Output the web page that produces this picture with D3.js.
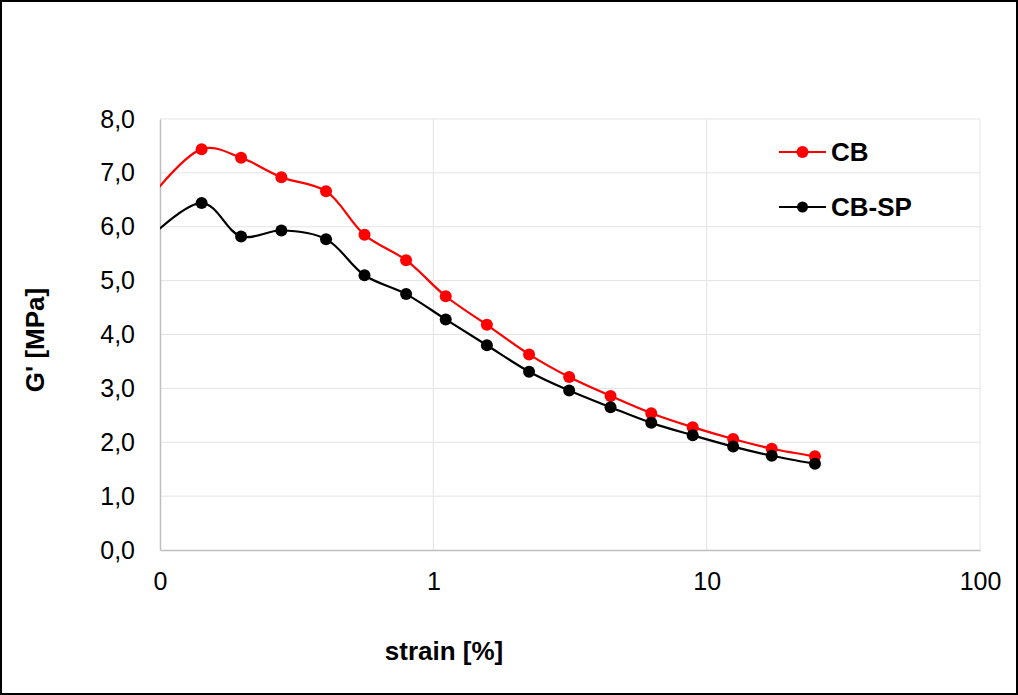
<!DOCTYPE html>
<html>
<head>
<meta charset="utf-8">
<script src="https://cdn.jsdelivr.net/npm/d3@7"></script>
<style>
  body { margin: 0; background: #fff; }
  text { font-family: "Liberation Sans", Arial, sans-serif; }
</style>
</head>
<body>
<div class="viz-container"></div>
<script>
// strain [%] (first point sits left of the axis and is clipped)
let strain = [0.07, 0.142, 0.198, 0.278, 0.405, 0.56, 0.795, 1.11, 1.57, 2.24, 3.14, 4.45, 6.27, 8.89, 12.5, 17.3, 24.9];
// G' [MPa]
let gCB   = [5.75, 7.44, 7.28, 6.92, 6.66, 5.85, 5.38, 4.71, 4.18, 3.63, 3.21, 2.86, 2.54, 2.28, 2.06, 1.88, 1.74];
let gCBSP = [5.2, 6.44, 5.82, 5.93, 5.77, 5.10, 4.75, 4.28, 3.80, 3.31, 2.96, 2.65, 2.36, 2.13, 1.92, 1.75, 1.60];

let seriesNames = ["CB", "CB-SP"];
let seriesColors = ["#ff0000", "#000000"];

let xTicks = [0.1, 1, 10, 100];
let xTickLabels = ["0", "1", "10", "100"];
let yTicks = [0, 1, 2, 3, 4, 5, 6, 7, 8];

let W = 1018, H = 695;
let plotL = 160, plotR = 980, plotT = 119, plotB = 550;

let viz = d3.select(".viz-container")
  .append("svg")
    .attr("width", W)
    .attr("height", H);

// outer frame
viz.append("rect")
  .attr("x", 1).attr("y", 1)
  .attr("width", W - 2).attr("height", H - 2)
  .attr("fill", "white")
  .attr("stroke", "black")
  .attr("stroke-width", 2);

let x = d3.scaleLog().domain([0.1, 100]).range([plotL, plotR]);
let y = d3.scaleLinear().domain([0, 8]).range([plotB, plotT]);

// gridlines
viz.append("g").selectAll("line").data(yTicks.slice(1)).enter()
  .append("line")
    .attr("x1", plotL).attr("x2", plotR)
    .attr("y1", d => y(d)).attr("y2", d => y(d))
    .attr("stroke", "#e3e3e3").attr("stroke-width", 1);

viz.append("g").selectAll("line").data(xTicks.slice(1)).enter()
  .append("line")
    .attr("x1", d => x(d)).attr("x2", d => x(d))
    .attr("y1", plotT).attr("y2", plotB)
    .attr("stroke", "#e3e3e3").attr("stroke-width", 1);

// axes
let yAxis = d3.axisLeft(y).tickValues(yTicks).tickSize(0).tickPadding(25)
  .tickFormat(d => d3.format(".1f")(d).replace(".", ","));
let xAxis = d3.axisBottom(x).tickValues(xTicks).tickSize(0).tickPadding(22)
  .tickFormat((d, i) => xTickLabels[i]);

let gy = viz.append("g").attr("transform", "translate(" + plotL + ",0)").call(yAxis);
let gx = viz.append("g").attr("transform", "translate(0," + plotB + ")").call(xAxis);

[gx, gy].forEach(g => {
  g.select(".domain").attr("stroke", "#bfbfbf").attr("stroke-width", 1.5);
  g.selectAll("text")
    .attr("font-family", "Liberation Sans, Arial, sans-serif")
    .attr("font-size", 25)
    .attr("fill", "black");
});

// axis titles
viz.append("text")
  .attr("x", 444).attr("y", 660)
  .attr("text-anchor", "middle")
  .attr("font-size", 26).attr("font-weight", "bold")
  .text("strain [%]");

viz.append("text")
  .attr("transform", "translate(44,340) rotate(-90)")
  .attr("text-anchor", "middle")
  .attr("font-size", 26).attr("font-weight", "bold")
  .text("G' [MPa]");

// clip for series
viz.append("clipPath").attr("id", "plotclip")
  .append("rect")
    .attr("x", plotL).attr("y", plotT - 10)
    .attr("width", plotR - plotL).attr("height", plotB - plotT + 10);

let series = [gCB, gCBSP].map((vals, i) => ({
  name: seriesNames[i],
  color: seriesColors[i],
  points: vals.map((v, j) => ({ s: strain[j], g: v }))
}));

let line = d3.line()
  .x(d => x(d.s))
  .y(d => y(d.g))
  .curve(d3.curveCatmullRom.alpha(0.5));

let plot = viz.append("g").attr("clip-path", "url(#plotclip)");

let groups = plot.selectAll(".datagroup").data(series).enter()
  .append("g")
    .attr("class", "datagroup");

groups.append("path")
  .attr("d", d => line(d.points))
  .attr("fill", "none")
  .attr("stroke", d => d.color)
  .attr("stroke-width", 2.2);

groups.selectAll("circle").data(d => d.points.filter(p => p.s >= 0.1).map(p => ({ p: p, c: d.color }))).enter()
  .append("circle")
    .attr("cx", d => x(d.p.s))
    .attr("cy", d => y(d.p.g))
    .attr("r", 6)
    .attr("fill", d => d.c);

// legend
let legend = viz.selectAll(".legend").data(series).enter()
  .append("g")
    .attr("class", "legend")
    .attr("transform", (d, i) => "translate(779," + (152 + i * 55) + ")");

legend.append("line")
  .attr("x1", 0).attr("x2", 47)
  .attr("stroke", d => d.color).attr("stroke-width", 2.2);
legend.append("circle")
  .attr("cx", 23.5).attr("r", (d, i) => i == 0 ? 6 : 5.5)
  .attr("fill", d => d.color);
legend.append("text")
  .attr("x", 52).attr("y", 9)
  .attr("font-size", 26).attr("font-weight", "bold")
  .text(d => d.name);
</script>
</body>
</html>
